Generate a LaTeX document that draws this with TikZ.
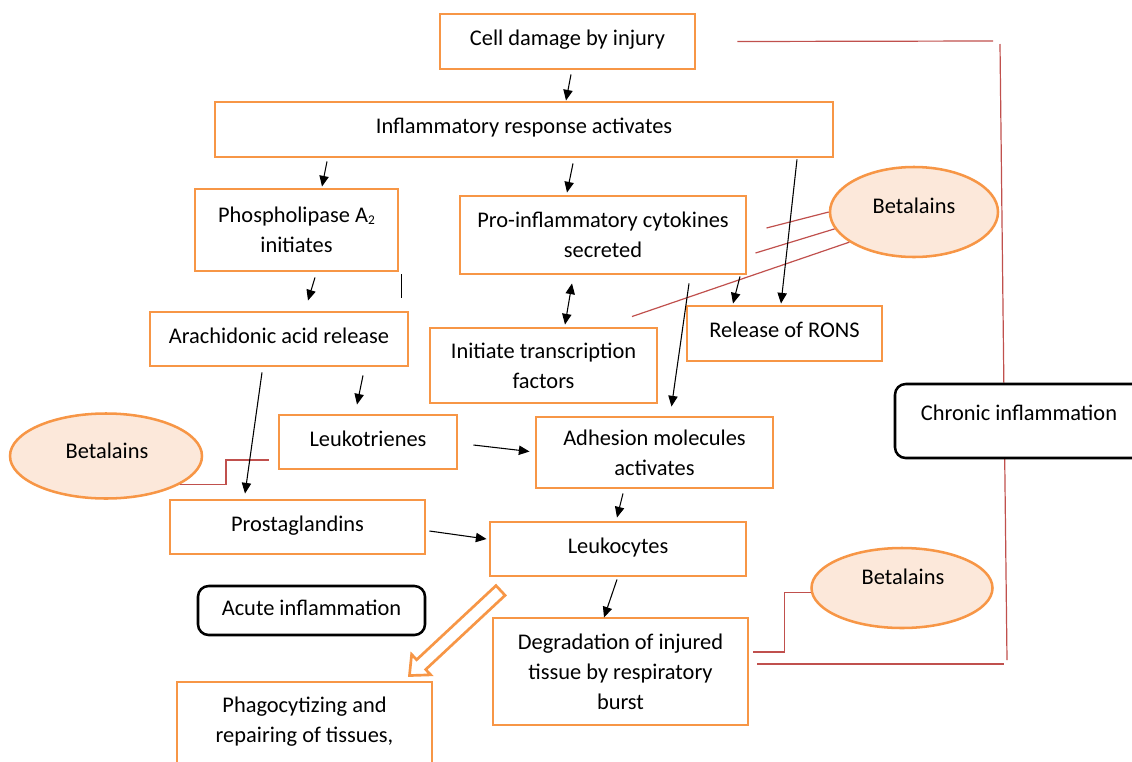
\documentclass[tikz,border=0pt]{standalone}
\usepackage{fontspec}
\setmainfont{Carlito}
\usetikzlibrary{arrows.meta,calc,shapes.geometric}
\definecolor{ocol}{RGB}{247,150,70}
\definecolor{pfill}{RGB}{252,232,218}
\definecolor{rcol}{RGB}{192,80,77}
\pgfdeclarelayer{bg}
\pgfsetlayers{bg,main}
\newcommand\dfont{\fontsize{16.8}{22.5}\selectfont}
\newcommand\subtwo{{\fontsize{10}{10}\selectfont\raisebox{-1.5pt}{2}}}
\begin{document}
\begin{tikzpicture}[x=0.75pt,y=-0.75pt,
 sz/.style 2 args={minimum width=#1*0.75pt, minimum height=#2*0.75pt},
 obox/.style={draw=ocol, line width=2.2pt, fill=white, rectangle, align=center, inner sep=0pt, font=\dfont},
 oneline/.style={text height=11pt, text depth=5pt},
 lowtext/.style={text depth=-7pt},
 kbox/.style={draw=black, line width=1.9pt, fill=white, rectangle, rounded corners=8pt, align=center, inner sep=0pt, font=\dfont},
 bell/.style={draw=ocol, line width=1.9pt, fill=pfill, ellipse, inner sep=0pt},
 ttext/.style={font=\dfont, align=center, inner sep=0pt},
 arr/.style={draw=black, line width=0.8pt, -{Triangle[length=8pt,width=7pt]}},
 darr/.style={draw=black, line width=0.8pt, {Triangle[length=8pt,width=7pt]}-{Triangle[length=8pt,width=7pt]}},
 rline/.style={draw=rcol, line width=0.9pt},
]
\useasboundingbox (0,0) rectangle (1132,761);

% boxes
\node[obox, oneline, sz={255}{55}] (cell) at (567.5,41.5) {Cell damage by injury};
\node[obox, oneline, sz={618}{55}] (infl) at (524,129.5) {Inflammatory response activates};
\node[obox, sz={203}{82}] (phos) at (296.5,230) {Phospholipase A\subtwo\\initiates};
\node[obox, sz={286}{78}] (cyto) at (603,235) {Pro-inflammatory cytokines\\secreted};
\node[obox, oneline, sz={258}{54}] (arach) at (279,339) {Arachidonic acid release};
\node[obox, lowtext, sz={227}{75}] (trans) at (543.5,365.5) {Initiate transcription\\factors};
\node[obox, oneline, sz={195}{55}] (rons) at (784.5,333.5) {Release of RONS};
\node[obox, oneline, sz={178}{54}] (leuko) at (368,442) {Leukotrienes};
\node[obox, lowtext, sz={237}{71}] (adh) at (654.5,452.5) {Adhesion molecules\\activates};
\node[obox, oneline, sz={255}{54}] (prost) at (297.5,527) {Prostaglandins};
\node[obox, oneline, sz={256}{54}] (lcyt) at (618,549) {Leukocytes};
\node[obox, lowtext, sz={255}{107}] (degr) at (620.5,671.5) {Degradation of injured\\tissue by respiratory\\burst};
\node[obox, sz={255}{128}] (phag) at (304.5,746) {};
\node[ttext] (phagt) at (304.5,722) {Phagocytizing and\\repairing of tissues,};
\node[kbox, sz={227}{49}, text height=11pt, text depth=4pt] (acute) at (311.5,610.5) {Acute inflammation};

% ellipses
\node[bell, sz={168}{90}] (bet1) at (914,212) {};
\node[ttext] (bet1t) at (914,206) {Betalains};
\node[bell, sz={192}{85}] (bet2) at (106,456) {};
\node[ttext] (bet2t) at (107,451) {Betalains};
\node[bell, sz={181}{80}] (bet3) at (902,588) {};
\node[ttext] (bet3t) at (903,577) {Betalains};

% red bracket (behind chronic box)
\begin{pgfonlayer}{bg}
\coordinate (bt1) at ([shift={(41,0)}]cell.east);
\coordinate (bt2) at (993,41);
\coordinate (bv1) at (1000,44);
\coordinate (bv2) at (1007,660);
\coordinate (bb1) at (757,664);
\coordinate (bb2) at (1004,664);
\draw[rline] (bt1) -- (bt2);
\draw[rline] (bv1) -- (bv2);
\draw[rline] (bb1) -- (bb2);
\end{pgfonlayer}
\node[kbox, sz={248}{74}, text height=11pt, text depth=12pt] (chron) at (1019,421) {Chronic inflammation};

% red inhibition lines
\draw[rline] ([shift={(308,-7)}]cyto.west) -- (bet1.180);
\draw[rline] ([shift={(297,18)}]cyto.west) -- (bet1.192);
\draw[rline] ([shift={(88.5,-10)}]trans.north) -- (bet1.205);
\draw[rline] (bet2.339) -- ++(46,0) |- ([shift={(-9,18)}]leuko.west);
\draw[rline] ([shift={(4,-19.5)}]degr.east) -- ++(31,0) |- (bet3.183);

% black arrows
\draw[arr] ([shift={(3.5,4)}]cell.south) -- ([shift={(42,0)}]infl.north);
\draw[arr] ([shift={(-197,3)}]infl.south) -- ([shift={(25.5,-1)}]phos.north);
\draw[arr] ([shift={(49,5)}]infl.south) -- ([shift={(-36,-2)}]cyto.north);
\draw[arr] ([shift={(273,1)}]infl.south) -- ([shift={(-3.5,-1)}]rons.north);
\draw[arr] ([shift={(137,1)}]cyto.south) -- ([shift={(-51.5,-1)}]rons.north);
\draw[arr] ([shift={(86,8)}]cyto.south) -- ([shift={(17,-9)}]adh.north);
\draw[darr] ([shift={(-31,8)}]cyto.south) -- ([shift={(21.5,-2)}]trans.north);
\draw[arr] ([shift={(18.5,5)}]phos.south) -- ([shift={(29,-10)}]arach.north);
\coordinate (st1) at ([shift={(2,2)}]phos.south east);
\coordinate (st2) at ([shift={(2,26)}]phos.south east);
\draw[black, line width=0.9pt] (st1) -- (st2);
\draw[arr] ([shift={(-17,5)}]arach.south) -- ([shift={(-52.5,-5)}]prost.north);
\draw[arr] ([shift={(84,8)}]arach.south) -- ([shift={(-11,-9)}]leuko.north);
\draw[arr] ([shift={(15,3)}]leuko.east) -- ([shift={(-5,-1)}]adh.west);
\draw[arr] ([shift={(3,4)}]prost.east) -- ([shift={(-2,-10)}]lcyt.west);
\draw[arr] ([shift={(-31.5,4)}]adh.south) -- ([shift={(-1,-3)}]lcyt.north);
\draw[arr] ([shift={(-1,2)}]lcyt.south) -- ([shift={(-16.5,1)}]degr.north);

% hollow orange arrow
\coordinate (hs) at ([shift={(12,13)}]lcyt.south west);
\coordinate (ht) at ([shift={(-24,-5)}]phag.north east);
\coordinate (hb) at ($(ht)!12pt!(hs)$);
\draw[draw=ocol, line width=2pt, fill=white, line join=miter]
 ($(hs)!5pt!90:(ht)$) -- ($(hb)!5pt!90:(ht)$) -- ($(hb)!10.5pt!90:(ht)$) -- (ht)
 -- ($(hb)!10.5pt!-90:(ht)$) -- ($(hb)!5pt!-90:(ht)$) -- ($(hs)!5pt!-90:(ht)$) -- cycle;
\end{tikzpicture}
\end{document}
